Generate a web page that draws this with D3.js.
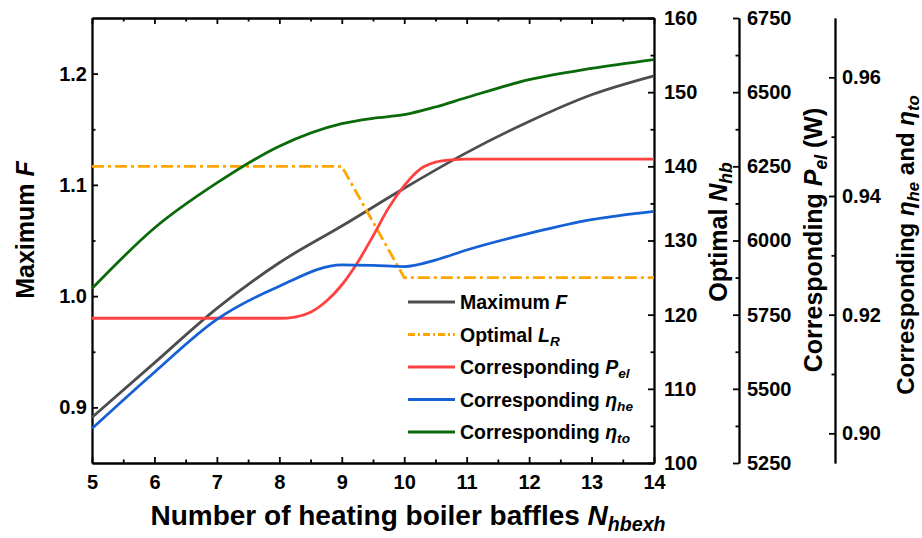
<!DOCTYPE html>
<html>
<head>
<meta charset="utf-8">
<script src="https://cdn.jsdelivr.net/npm/d3@7"></script>
<style>
body { margin: 0; background: #fff; }
svg text { font-family: "Liberation Sans", Arial, sans-serif; font-weight: bold; fill: #000; }
.axis path, .axis line { stroke: #000; stroke-width: 1.8; }
.axis text { font-size: 20px; }
</style>
</head>
<body>
<svg width="922" height="538"></svg>
<script>
// data
let xVals = [5, 6, 7, 8, 9, 10, 11, 12, 13, 14]
let maxF = [0.891, 0.940, 0.989, 1.030, 1.063, 1.097, 1.129, 1.157, 1.181, 1.198]

let lrX = [5, 9, 10, 14]
let optimalN = [140, 140, 125, 125]

let pelX = [5, 6, 7, 8, 8.25, 8.5, 8.75, 9, 9.25, 9.5, 9.75, 10, 10.25, 10.5, 10.75, 11, 12, 13, 14]
let pelVals = [5738, 5738, 5738, 5738, 5742, 5758, 5795, 5850, 5925, 6015, 6110, 6185, 6240, 6264, 6272, 6274, 6274, 6274, 6274]

let etaX = [5, 6, 7, 8, 9, 9.5, 10, 10.5, 11, 12, 13, 14]
let etaHe = [0.9008, 0.9103, 0.9192, 0.9248, 0.9284, 0.9283, 0.9281, 0.9292, 0.9309, 0.9337, 0.9360, 0.9374]
let etaTo = [0.9244, 0.9346, 0.9422, 0.9484, 0.9522, 0.9531, 0.9537, 0.9550, 0.9566, 0.9596, 0.9615, 0.9630]

let fTicks = [0.9, 1.0, 1.1, 1.2]
let nTicks = [100, 110, 120, 130, 140, 150, 160]
let pTicks = [5250, 5500, 5750, 6000, 6250, 6500, 6750]
let eTicks = [0.90, 0.92, 0.94, 0.96]

let svg = d3.select('svg')
let margin = {top: 18, left: 92, right: 654, bottom: 463}

let xScale = d3.scaleLinear().domain([5, 14]).range([margin.left, margin.right])
let yF = d3.scaleLinear().domain([0.85, 1.25]).range([margin.bottom, margin.top])
let yN = d3.scaleLinear().domain([100, 160]).range([margin.bottom, margin.top])
let yP = d3.scaleLinear().domain([5250, 6750]).range([margin.bottom, margin.top])
let yE = d3.scaleLinear().domain([0.895, 0.97]).range([margin.bottom, margin.top])

let axP = 739, axE = 835

// minor ticks first, then major axes with labels
function minor(axis, vals, tx, ty) {
    svg.append('g').attr('class', 'axis')
        .attr('transform', 'translate(' + tx + ',' + ty + ')')
        .call(axis.tickValues(vals).tickSizeInner(-3.5).tickSizeOuter(0).tickFormat(''))
}
minor(d3.axisBottom(xScale), d3.range(5.5, 14, 1), 0, margin.bottom)
minor(d3.axisTop(xScale), d3.range(5.5, 14, 1), 0, margin.top)
minor(d3.axisLeft(yF), [0.95, 1.05, 1.15], margin.left, 0)
minor(d3.axisRight(yN), [105, 115, 125, 135, 145, 155], margin.right, 0)
minor(d3.axisRight(yP), [5375, 5625, 5875, 6125, 6375, 6625], axP, 0)
minor(d3.axisRight(yE), [0.91, 0.93, 0.95], axE, 0)

svg.append('g').attr('class', 'axis')
    .attr('transform', 'translate(0,' + margin.bottom + ')')
    .call(d3.axisBottom(xScale).tickValues(xVals).tickSizeInner(-6).tickSizeOuter(0).tickPadding(12).tickFormat(d3.format('d')))
svg.append('g').attr('class', 'axis')
    .attr('transform', 'translate(0,' + margin.top + ')')
    .call(d3.axisTop(xScale).tickValues(xVals).tickSizeInner(-6).tickSizeOuter(0).tickFormat(''))
svg.append('g').attr('class', 'axis')
    .attr('transform', 'translate(' + margin.left + ',0)')
    .call(d3.axisLeft(yF).tickValues(fTicks).tickSizeInner(-6).tickSizeOuter(0).tickPadding(5).tickFormat(d3.format('.1f')))
svg.append('g').attr('class', 'axis')
    .attr('transform', 'translate(' + margin.right + ',0)')
    .call(d3.axisRight(yN).tickValues(nTicks).tickSizeInner(-6).tickSizeOuter(0).tickPadding(10))
svg.append('g').attr('class', 'axis')
    .attr('transform', 'translate(' + axP + ',0)')
    .call(d3.axisRight(yP).tickValues(pTicks).tickSizeInner(-6).tickSizeOuter(0).tickPadding(8).tickFormat(d3.format('d')))
svg.append('g').attr('class', 'axis')
    .attr('transform', 'translate(' + axE + ',0)')
    .call(d3.axisRight(yE).tickValues(eTicks).tickSizeInner(-6).tickSizeOuter(0).tickPadding(7).tickFormat(d3.format('.2f')))

// curves
let series = [
    {xs: xVals, ys: maxF, y: yF, color: '#4d4d4d', dash: null, curve: d3.curveMonotoneX},
    {xs: lrX, ys: optimalN, y: yN, color: '#ffa500', dash: '12,4,3,4', curve: d3.curveLinear},
    {xs: pelX, ys: pelVals, y: yP, color: '#ff4040', dash: null, curve: d3.curveMonotoneX},
    {xs: etaX, ys: etaHe, y: yE, color: '#1560d4', dash: null, curve: d3.curveMonotoneX},
    {xs: etaX, ys: etaTo, y: yE, color: '#0a6a0a', dash: null, curve: d3.curveMonotoneX}
]
series.forEach(s => {
    let line = d3.line().x(d => xScale(d[0])).y(d => s.y(d[1])).curve(s.curve)
    svg.append('path')
        .attr('d', line(s.xs.map((v, i) => [v, s.ys[i]])))
        .attr('fill', 'none')
        .attr('stroke', s.color)
        .attr('stroke-width', 2.8)
        .attr('stroke-dasharray', s.dash)
})

// rich text helper: parts = [[text, style]], n normal, i italic, s italic subscript, a back on baseline
function rich(g, parts) {
    let t = g.append('text')
    parts.forEach(p => {
        let ts = t.append('tspan').text(p[0])
        if (p[1] == 'i' || p[1] == 's') ts.attr('font-style', 'italic')
        if (p[1] == 's') ts.attr('font-size', '0.7em').attr('dy', '0.3em')
        if (p[1] == 'a') ts.attr('dy', '-0.21em')
    })
    return t
}

// legend
let legendItems = [
    {color: '#4d4d4d', dash: null, parts: [['Maximum ', 'n'], ['F', 'i']]},
    {color: '#ffa500', dash: '7,3,2,3', parts: [['Optimal ', 'n'], ['L', 'i'], ['R', 's']]},
    {color: '#ff4040', dash: null, parts: [['Corresponding ', 'n'], ['P', 'i'], ['el', 's']]},
    {color: '#1560d4', dash: null, parts: [['Corresponding ', 'n'], ['\u03b7', 'i'], ['he', 's']]},
    {color: '#0a6a0a', dash: null, parts: [['Corresponding ', 'n'], ['\u03b7', 'i'], ['to', 's']]}
]
let legend = svg.append('g').attr('transform', 'translate(408,302)')
legendItems.forEach((d, i) => {
    let row = legend.append('g').attr('transform', 'translate(0,' + i * 32.5 + ')')
    row.append('line').attr('x1', 0).attr('x2', 47).attr('y1', 0).attr('y2', 0)
        .attr('stroke', d.color).attr('stroke-width', 2.8).attr('stroke-dasharray', d.dash)
    rich(row, d.parts).attr('x', 52).attr('y', 7).style('font-size', '19.5px')
})

// axis titles
rich(svg.append('g').attr('transform', 'translate(408,525)'),
    [['Number of heating boiler baffles ', 'n'], ['N', 'i'], ['hbexh', 's']])
    .attr('text-anchor', 'middle').style('font-size', '28px')
rich(svg.append('g').attr('transform', 'translate(34,230) rotate(-90)'),
    [['Maximum ', 'n'], ['F', 'i']])
    .attr('text-anchor', 'middle').style('font-size', '25px')
rich(svg.append('g').attr('transform', 'translate(727,232) rotate(-90)'),
    [['Optimal ', 'n'], ['N', 'i'], ['hb', 's']])
    .attr('text-anchor', 'middle').style('font-size', '25px')
rich(svg.append('g').attr('transform', 'translate(822,240) rotate(-90)'),
    [['Corresponding ', 'n'], ['P', 'i'], ['el', 's'], [' (W)', 'a']])
    .attr('text-anchor', 'middle').style('font-size', '25px')
rich(svg.append('g').attr('transform', 'translate(914,245) rotate(-90)'),
    [['Corresponding ', 'n'], ['\u03b7', 'i'], ['he', 's'], [' and ', 'a'], ['\u03b7', 'i'], ['to', 's']])
    .attr('text-anchor', 'middle').style('font-size', '24px')
</script>
</body>
</html>
